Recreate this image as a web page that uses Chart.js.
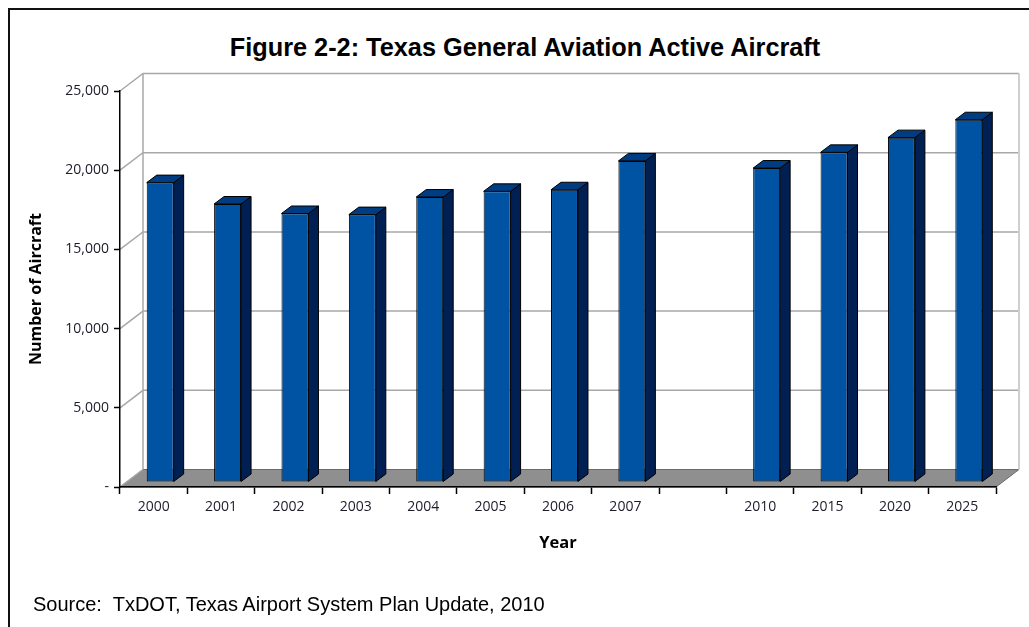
<!DOCTYPE html>
<html>
<head>
<meta charset="utf-8">
<script src="https://cdn.jsdelivr.net/npm/chart.js@4.4.1/dist/chart.umd.min.js"></script>
<style>
  html, body { margin: 0; padding: 0; background: #fff; }
  #wrap { position: relative; width: 1029px; height: 627px; overflow: hidden; }
  #frame { position: absolute; left: 8px; top: 8px; width: 1040px; height: 700px; border: 2px solid #111; box-sizing: border-box; }
  #title { position: absolute; left: 0; width: 1050px; top: 33px; text-align: center;
           font: bold 25.3px "Liberation Sans", Arial, sans-serif; color: #000; line-height: 28px; }
  #source { position: absolute; left: 33px; top: 594px; font: 20px "Liberation Sans", Arial, sans-serif;
            color: #000; line-height: 20px; white-space: pre; }
  canvas { position: absolute; left: 0; top: 0; }
</style>
</head>
<body>
<div id="wrap">
  <div id="frame"></div>
  <div id="title">Figure 2-2: Texas General Aviation Active Aircraft</div>
  <canvas id="myChart" width="1029" height="627"></canvas>
  <div id="source">Source:  TxDOT, Texas Airport System Plan Update, 2010</div>
</div>
<script>
// years on the x axis (the blank one is the empty slot between 2007 and 2010)
const years = ['2000', '2001', '2002', '2003', '2004', '2005', '2006', '2007', '', '2010', '2015', '2020', '2025'];
const aircraft = [18900, 17550, 16950, 16880, 17990, 18350, 18450, 20270, null, 19820, 20810, 21740, 22870];
const yTicks = [0, 5000, 10000, 15000, 20000, 25000];

// depth of the box and of the bars
const depthX = 23, depthY = -17.5;
const barShiftX = 6.5, barShiftY = -5;
const barDepthX = 10, barDepthY = -7.5;

const boxPlugin = {
    id: 'box3d',
    beforeDraw(chart) {
        const c = chart.ctx;
        const a = chart.chartArea;
        const y = chart.scales.y;
        c.save();
        // floor
        c.fillStyle = '#8f8f8f';
        c.beginPath();
        c.moveTo(a.left, a.bottom);
        c.lineTo(a.left + depthX, a.bottom + depthY);
        c.lineTo(a.right + depthX, a.bottom + depthY);
        c.lineTo(a.right, a.bottom);
        c.closePath();
        c.fill();
        c.strokeStyle = '#6a6a6a';
        c.lineWidth = 1;
        c.stroke();
        // back wall grid + side diagonals
        c.strokeStyle = '#a8a8a8';
        c.lineWidth = 1.5;
        yTicks.forEach(function(v) {
            const py = y.getPixelForValue(v);
            c.beginPath();
            c.moveTo(a.left, py);
            c.lineTo(a.left + depthX, py + depthY);
            if (v > 0) c.lineTo(a.right + depthX, py + depthY);
            c.stroke();
        });
        c.beginPath();
        c.moveTo(a.left + depthX, a.top + depthY);
        c.lineTo(a.left + depthX, a.bottom + depthY);
        c.stroke();
        c.strokeStyle = '#cfcfcf';
        c.lineWidth = 2;
        c.beginPath();
        c.moveTo(a.right + depthX, a.top + depthY);
        c.lineTo(a.right + depthX, a.bottom + depthY);
        c.stroke();
        c.restore();
    },
    beforeDatasetsDraw(chart) {
        chart.ctx.save();
        chart.ctx.translate(barShiftX, barShiftY);
    },
    afterDatasetsDraw(chart) {
        const c = chart.ctx;
        const meta = chart.getDatasetMeta(0);
        c.lineWidth = 1;
        c.strokeStyle = '#000';
        meta.data.forEach(function(bar, i) {
            if (aircraft[i] == null) return;
            const p = bar.getProps(['x', 'y', 'base', 'width'], true);
            const l = p.x - p.width / 2, r = p.x + p.width / 2;
            // side
            c.fillStyle = '#001f52';
            c.beginPath();
            c.moveTo(r, p.y);
            c.lineTo(r + barDepthX, p.y + barDepthY);
            c.lineTo(r + barDepthX, p.base + barDepthY);
            c.lineTo(r, p.base);
            c.closePath();
            c.fill();
            c.stroke();
            // top
            c.fillStyle = '#003c82';
            c.beginPath();
            c.moveTo(l, p.y);
            c.lineTo(l + barDepthX, p.y + barDepthY);
            c.lineTo(r + barDepthX, p.y + barDepthY);
            c.lineTo(r, p.y);
            c.closePath();
            c.fill();
            c.stroke();
        });
        c.restore();
    }
};

const tickFont = { family: '"Open Sans", "Noto Sans", sans-serif', size: 14 };

var ctx = document.getElementById('myChart').getContext('2d');
var myChart = new Chart(ctx, {
    type: 'bar',
    data: {
        labels: years,
        datasets: [{
            data: aircraft,
            backgroundColor: '#0053a2',
            borderColor: '#000',
            borderWidth: 1,
            borderSkipped: false,
            categoryPercentage: 1,
            barPercentage: 0.4
        }]
    },
    options: {
        responsive: false,
        animation: false,
        layout: { padding: { left: 0, right: 33, top: 91, bottom: 0 } },
        plugins: {
            legend: { display: false },
            tooltip: { enabled: false }
        },
        scales: {
            x: {
                afterFit: function(scale) { scale.height = 140; },
                grid: { drawOnChartArea: false, color: '#000', tickLength: 7, tickWidth: 1.5 },
                border: { color: '#000', width: 1.5 },
                ticks: { font: tickFont, color: '#1c1c2a', padding: 5, maxRotation: 0, autoSkip: false },
                title: {
                    display: true, text: 'Year', color: '#000',
                    font: { family: '"Open Sans", "Noto Sans", sans-serif', size: 16.5, weight: 'bold' },
                    padding: { top: 0, bottom: 74 }
                }
            },
            y: {
                min: 0,
                max: 25000,
                afterFit: function(scale) { scale.width = 120; },
                afterBuildTicks: function(scale) {
                    scale.ticks = yTicks.map(function(v) { return { value: v }; });
                },
                grid: { drawOnChartArea: false, color: '#000', tickLength: 6, tickWidth: 1.5 },
                border: { color: '#000', width: 1.5 },
                ticks: {
                    font: tickFont, color: '#1c1c2a', padding: 5,
                    callback: function(v) { return v === 0 ? '-' : v.toLocaleString('en-US'); }
                },
                title: {
                    display: true, text: 'Number of Aircraft', color: '#000',
                    font: { family: '"Open Sans", "Noto Sans", sans-serif', size: 16, weight: 'bold' },
                    padding: { top: 27, bottom: 0 }
                }
            }
        }
    },
    plugins: [boxPlugin]
});
</script>
</body>
</html>
